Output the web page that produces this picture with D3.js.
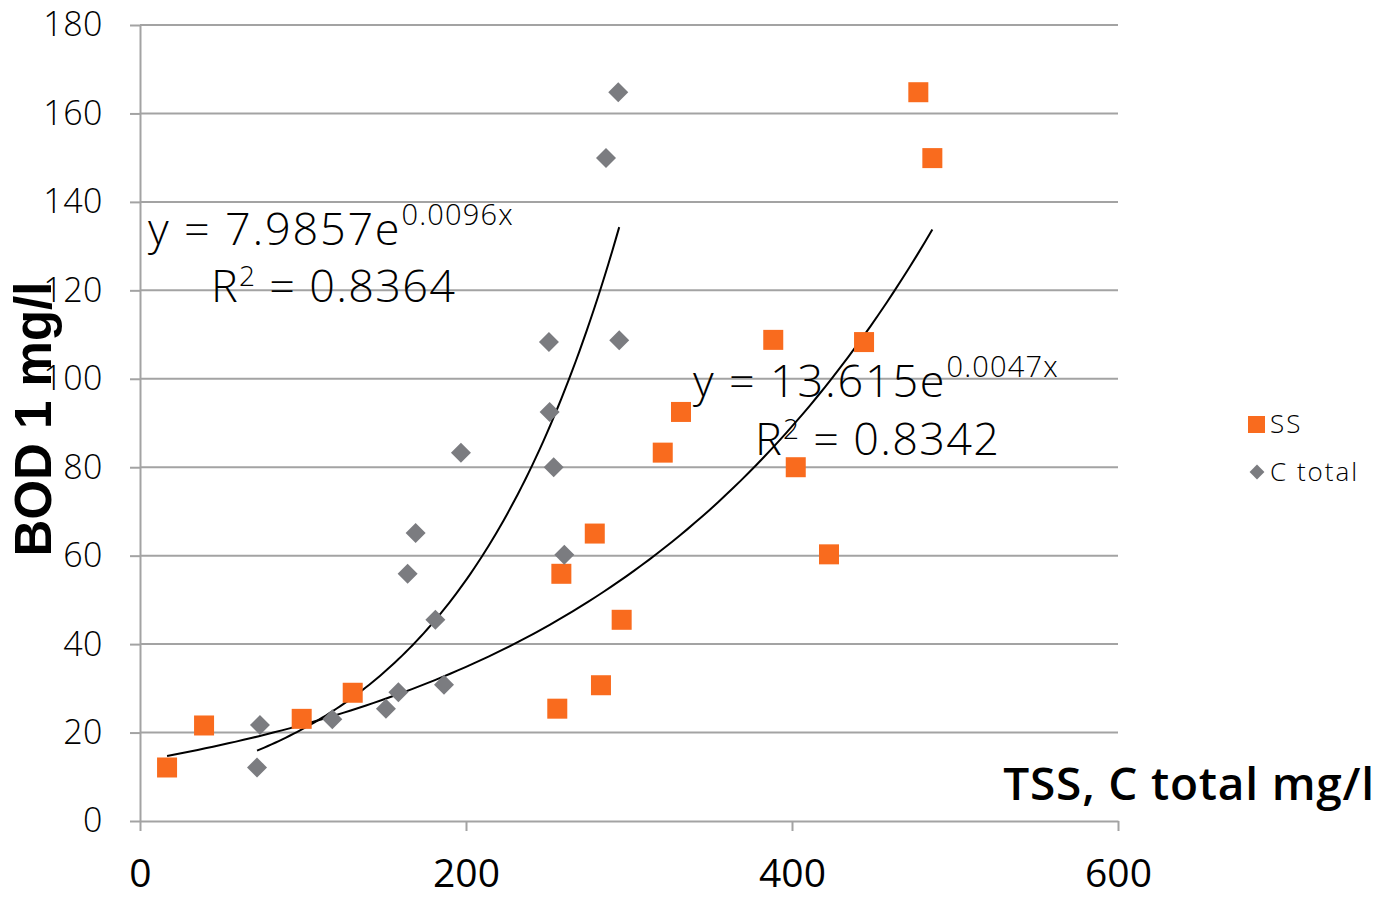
<!DOCTYPE html>
<html><head><meta charset="utf-8">
<script src="https://cdn.jsdelivr.net/npm/d3@7"></script>
<style>body{margin:0;background:#fff}svg{display:block}</style>
</head><body>
<svg id="c" width="1383" height="897"></svg>
<script>
const xTicks = [0, 200, 400, 600];
const yTicks = [0, 20, 40, 60, 80, 100, 120, 140, 160, 180];
const ssX = [16.6, 39.3, 99.2, 130.5, 256, 282.8, 295.5, 258.5, 279, 320.7, 331.9, 388.5, 444.2, 402.3, 422.7, 477.5, 486.1];
const ssY = [12.1, 21.6, 23.1, 29.0, 25.4, 30.7, 45.5, 55.9, 65.0, 83.3, 92.5, 108.8, 108.3, 80.0, 60.3, 164.8, 149.9];
const cX = [71.8, 73.6, 118, 150.9, 158.5, 186.5, 181.2, 164.2, 169.1, 196.9, 251.3, 253.8, 260.3, 250.9, 294, 285.9, 293.4];
const cY = [12.1, 21.7, 23.0, 25.4, 29.1, 30.8, 45.5, 55.9, 65.1, 83.3, 92.5, 80.0, 60.2, 108.3, 108.7, 149.9, 164.8];
const seriesNames = ["SS", "C total"];
const trendA = [13.615, 7.9857];
const trendB = [0.0047, 0.0096];
const eqMain = ["y = 13.615e", "y = 7.9857e"];
const eqSup = ["0.0047x", "0.0096x"];
const eqR2 = ["0.8342", "0.8364"];
const xTitle = "TSS, C total mg/l";
const yTitle = "BOD 1 mg/l";

const svg = d3.select("#c");
const x = d3.scaleLinear().domain([0, 600]).range([140, 1118]);
const y = d3.scaleLinear().domain([0, 180]).range([821, 25]);
const grid = "#a3a3a3";

// gridlines
svg.append("g").selectAll("line").data(yTicks.filter(d => d > 0)).join("line")
  .attr("x1", x(0)).attr("x2", x(600)).attr("y1", d => y(d)).attr("y2", d => y(d))
  .attr("stroke", grid).attr("stroke-width", 2);

// y axis
const ya = svg.append("g").attr("transform", `translate(${x(0)},0)`)
  .call(d3.axisLeft(y).tickValues(yTicks).tickSize(10).tickPadding(27).tickSizeOuter(0));
ya.select(".domain").attr("stroke", grid).attr("stroke-width", 2);
ya.selectAll(".tick line").attr("stroke", grid).attr("stroke-width", 2);
ya.selectAll(".tick text").attr("font-family", "'Open Sans'").attr("font-weight", 300)
  .attr("font-size", 34).attr("fill", "#000").attr("letter-spacing", 0.5);

// x axis
const xa = svg.append("g").attr("transform", `translate(0,${y(0)})`)
  .call(d3.axisBottom(x).tickValues(xTicks).tickSize(10).tickPadding(28).tickSizeOuter(0));
xa.select(".domain").attr("stroke", grid).attr("stroke-width", 2);
xa.selectAll(".tick line").attr("stroke", grid).attr("stroke-width", 2);
xa.selectAll(".tick text").attr("font-family", "'Open Sans'").attr("font-size", 39).attr("fill", "#000");

// trend lines
const xsSets = [ssX, cX];
xsSets.forEach((xs, i) => {
  const lo = d3.min(xs), hi = d3.max(xs);
  const pts = d3.range(0, 101).map(k => { const xv = lo + (hi - lo) * k / 100; return [xv, trendA[i] * Math.exp(trendB[i] * xv)]; });
  svg.append("path").datum(pts).attr("fill", "none").attr("stroke", "#000").attr("stroke-width", 2)
    .attr("d", d3.line().x(d => x(d[0])).y(d => y(d[1])));
});

// points
const orange = "#f96b1e", gray = "#7b7c80";
svg.append("g").selectAll("rect").data(d3.range(ssX.length)).join("rect")
  .attr("x", i => x(ssX[i]) - 10).attr("y", i => y(ssY[i]) - 10).attr("width", 20).attr("height", 20).attr("fill", orange);
const diamond = d3.symbol().type(d3.symbolSquare).size(200);
svg.append("g").selectAll("path").data(d3.range(cX.length)).join("path")
  .attr("d", diamond).attr("transform", i => `translate(${x(cX[i])},${y(cY[i])}) rotate(45)`).attr("fill", gray);

// equations
const eqPos = [[693, 397, 755, 455], [148, 245, 211, 302]];
eqPos.forEach((p, i) => {
  const t = svg.append("text").attr("x", p[0]).attr("y", p[1]).attr("font-family", "'Open Sans'")
    .attr("font-weight", 300).attr("font-size", 45).attr("fill", "#000");
  t.append("tspan").attr("letter-spacing", 1.8).text(eqMain[i]);
  t.append("tspan").attr("dy", -20).attr("font-size", 29).attr("letter-spacing", 1.2).text(eqSup[i]);
  const r = svg.append("text").attr("x", p[2]).attr("y", p[3]).attr("font-family", "'Open Sans'")
    .attr("font-weight", 300).attr("font-size", 45).attr("fill", "#000").attr("letter-spacing", 1.3);
  r.append("tspan").text("R");
  r.append("tspan").attr("dy", -16).attr("font-size", 28).text("2");
  r.append("tspan").attr("dy", 16).text(" = " + eqR2[i]);
});

// axis titles
svg.append("text").attr("x", 1375).attr("y", 800).attr("text-anchor", "end")
  .attr("font-family", "'Open Sans'").attr("font-weight", 600).attr("font-size", 46).attr("letter-spacing", 0.8)
  .attr("fill", "#000").text(xTitle);
svg.append("text").attr("transform", "translate(51,419) rotate(-90)").attr("text-anchor", "middle")
  .attr("font-family", "'Liberation Sans'").attr("font-weight", 700).attr("font-size", 51).attr("fill", "#000").text(yTitle);

// legend
const lg = svg.append("g");
lg.append("rect").attr("x", 1248).attr("y", 416).attr("width", 17).attr("height", 17).attr("fill", orange);
lg.append("path").attr("d", d3.symbol().type(d3.symbolSquare).size(110)).attr("transform", "translate(1257,472) rotate(45)").attr("fill", gray);
seriesNames.forEach((n, i) => {
  lg.append("text").attr("x", 1270).attr("y", 433 + i * 48).attr("font-family", "'Open Sans'").attr("font-weight", 300)
    .attr("font-size", 26).attr("letter-spacing", 2).attr("fill", "#000").text(n);
});
</script>
</body></html>
